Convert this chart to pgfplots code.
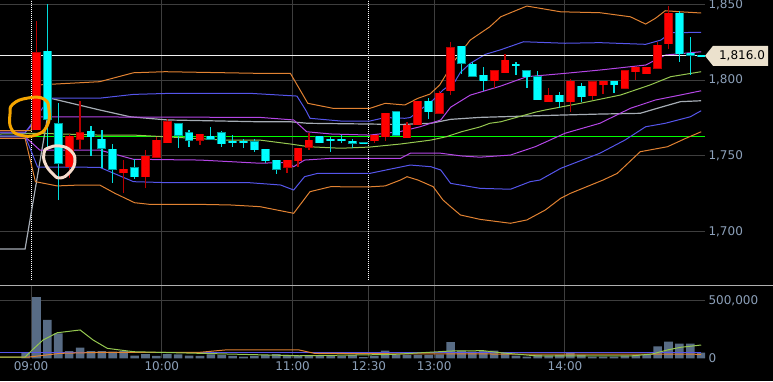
\documentclass[border=0pt]{standalone}
\usepackage{pgfplots}
\usepackage{pgfplotstable}
\pgfplotsset{compat=1.18}
\usepackage{fontspec}
\setmainfont{DejaVu Sans}
\definecolor{gridc}{RGB}{62,62,62}
\definecolor{sepc}{RGB}{175,175,175}
\definecolor{lab}{RGB}{140,160,185}
\definecolor{cup}{RGB}{255,0,0}
\definecolor{cupw}{RGB}{185,0,0}
\definecolor{cdn}{RGB}{0,255,255}
\definecolor{cdnw}{RGB}{0,220,220}
\definecolor{band3}{RGB}{225,130,50}
\definecolor{band2}{RGB}{85,85,235}
\definecolor{band1}{RGB}{180,70,230}
\definecolor{mac}{RGB}{165,172,180}
\definecolor{midc}{RGB}{150,200,80}
\definecolor{vwap}{RGB}{0,255,0}
\definecolor{volbar}{RGB}{88,108,133}
\definecolor{tagc}{RGB}{235,225,205}
\definecolor{anno1}{RGB}{245,165,0}
\definecolor{anno2}{RGB}{245,220,205}

\pgfplotstableread{
k o h l c
0 1767 1839 1767 1818
3 1742.7 1764 1735 1763
4 1760.8 1786 1754.4 1765.2
8 1738.7 1747 1725.3 1741
10 1736 1753.7 1728.6 1749.8
11 1749 1762.5 1749 1760.3
12 1758.6 1774.2 1758.6 1772.5
15 1760.3 1764 1757 1764
23 1742.3 1747.1 1738.8 1747.1
24 1746.7 1754.9 1742.3 1754.9
25 1755.5 1765.2 1753.5 1760.3
31 1759.9 1763.6 1758.2 1763.6
32 1762.5 1778 1760 1778
34 1762 1772 1762 1770.3
35 1770.3 1786 1770 1786
37 1778 1793 1778 1791.2
38 1793 1825.3 1790 1821.3
42 1799.5 1806 1795 1806
43 1804.8 1817 1804.8 1813.2
47 1785.7 1794.5 1785.7 1790
49 1785.7 1800.4 1779 1799.3
51 1789.6 1798.9 1787 1798.9
52 1796.7 1799.3 1790.5 1799.3
54 1794.5 1806.1 1794.5 1806.1
55 1805.5 1808.4 1800 1808.4
56 1804 1808.4 1804 1808.4
57 1807.7 1825.3 1807 1823.1
58 1823.8 1848.9 1820.3 1844.1
}\redc

\pgfplotstableread{
k o h l c
1 1819 1850 1754 1774
2 1771 1785 1721 1745
5 1766.3 1769.6 1749.8 1762.5
6 1761 1767 1741.8 1754.8
7 1754.4 1757.7 1732 1741
9 1742 1747.8 1734.6 1736
13 1771 1771 1755 1763.6
14 1765.2 1767 1756 1760.3
16 1763 1769 1760.3 1760.8
17 1765.2 1766 1756 1757.7
18 1759.3 1763.6 1756 1758.6
19 1759.3 1760.8 1755.4 1759
20 1759.3 1761 1752.6 1753.8
21 1754.2 1754.2 1745 1746.7
22 1747.1 1747.1 1737.9 1741
26 1763 1763 1758.6 1758.6
27 1760.5 1762.5 1752.6 1760
28 1760.5 1763.6 1758.6 1760
29 1759.7 1761 1755 1758.2
30 1758.4 1758.4 1758 1758
33 1779 1779 1763 1763.6
36 1786 1788 1774 1779
39 1822.5 1822.5 1804 1811
40 1810.4 1812 1802.6 1802.6
41 1803.3 1808.8 1793 1799.5
44 1810.6 1812 1803.3 1809.3
45 1806.2 1806.2 1795 1802.2
46 1802.2 1806 1787 1787
48 1790 1792 1781.3 1785.7
50 1796 1798 1785.7 1789
53 1799.3 1799.3 1791.6 1796.7
59 1844.1 1845.8 1812 1817.2
60 1817.6 1828.2 1803.3 1816.3
61 1816.2 1816.2 1816 1816
}\cyanc

\pgfplotstableread{
k v
-1 50000
0 530000
1 333000
2 215000
3 63000
4 93000
5 63000
6 63000
7 57000
8 63000
9 23000
10 37000
11 20000
12 37000
13 35000
14 23000
15 20000
16 35000
17 30000
18 20000
19 15000
20 20000
21 30000
22 37000
23 30000
24 23000
25 23000
26 20000
27 20000
28 20000
29 30000
30 10000
31 20000
32 66000
33 29000
34 29000
35 29000
36 29000
37 35000
38 139000
39 66000
40 57000
41 63000
42 66000
43 49000
44 23000
45 15000
46 29000
47 23000
48 29000
49 52000
50 29000
51 15000
52 15000
53 15000
54 23000
55 29000
56 29000
57 104000
58 145000
59 128000
60 128000
61 49000
}\vol

\pgfplotsset{
  base/.style={
    scale only axis, width=705pt, xmin=-3.35, xmax=61.35,
    axis line style={draw=none},
    major tick length=0pt,
    grid style={gridc, line width=1pt},
    ticklabel style={text=lab, font=\fontsize{12}{14}\selectfont},
    /pgf/number format/.cd, assume math mode=true, fixed, 1000 sep={,},
  },
  candle/.style={only marks, mark=*, mark size=0pt,
    mark options={draw=none, fill=none}, forget plot,
    error bars/.cd, y dir=both, y explicit, error mark=none},
}

\begin{document}
\begin{tikzpicture}
\useasboundingbox (0,0) rectangle (773pt,381pt);
\fill[black] (0,0) rectangle (773pt,381pt);

% ---------------- price panel ----------------
\begin{axis}[base, at={(0pt,96pt)}, anchor=south west, height=285pt,
  ymin=1664.5, ymax=1852.9,
  xtick={11.5,23.5,36.5,48.5}, xticklabels={},
  ytick={1700,1750,1800,1850},
  minor ytick={1712.5,1725,1737.5,1775,1825},
  minor tick length=8pt, tick align=outside,
  minor tick style={draw=gridc!170, line width=1pt},
  ytick pos=right, yticklabel pos=right,
  xmajorgrids, ymajorgrids,
  clip=true]
\draw[white, line width=1pt, dash pattern=on 1pt off 1pt] (axis cs:-0.5,1667.8) -- (axis cs:-0.5,1852.9);
\draw[white, line width=1pt, dash pattern=on 1pt off 1pt] (axis cs:30.5,1667.8) -- (axis cs:30.5,1852.9);
\coordinate (tagp) at (axis cs:61.35,1816);

% green horizontal
\addplot[vwap, line width=1pt] coordinates {(-3.35,1762.5) (61.35,1762.5)};
% grey MA
\addplot[mac, line width=1.2pt] coordinates {(-3.35,1688.3) (-1.05,1688.3) (1.3,1787.9) (5.8,1780.2) (8.6,1775.7) (12,1773.6) (20.5,1772.4) (23.3,1772.4) (24.9,1771.4) (30.6,1770.9) (33.4,1770.6) (36.2,1771.4) (38,1774) (40.7,1775.3) (42.6,1775.7) (46,1776.4) (48.5,1776.9) (51.7,1777.5) (55.4,1778) (57.3,1782) (59.1,1785.7) (61,1786.3)};
% middle line
\addplot[midc, line width=1pt] coordinates {(-3.35,1764.3) (0,1764.8) (5.8,1763.6) (8.9,1763.6) (11.8,1762.5) (17.3,1760.3) (20.5,1760.3) (23.3,1757.7) (25,1755.9) (27.9,1754.9) (30.6,1755.7) (33.4,1757.7) (36.2,1760.3) (37.6,1762.5) (39,1765.8) (40.7,1769) (41.6,1771.4) (42.6,1772.4) (45.8,1778.8) (46.7,1780.2) (49.9,1784.6) (53.6,1790.1) (56.3,1796.7) (58.2,1802.2) (61,1805.5)};
% +-1 sigma
\addplot[band1, line width=1pt] coordinates {(-3.35,1765.5) (-1.05,1765.5) (0.3,1775.7) (20.5,1775.3) (23.6,1773.6) (24.8,1765.8) (27.1,1764.3) (30.6,1763.6) (32,1764.8) (33.3,1765.8) (35.2,1769.1) (37.1,1773.6) (38,1782) (39.8,1790) (42.6,1796) (45,1802.2) (48.5,1804.4) (51.7,1806.6) (55.9,1809.9) (57.7,1816.5) (61,1818.7)};
\addplot[band1, line width=1pt] coordinates {(-3.35,1762.5) (-1.05,1762.5) (0.3,1753.7) (5.8,1753.7) (8.9,1747.6) (15,1747.1) (20.5,1745) (23,1745.5) (23.6,1742.7) (24.6,1747.1) (27,1748.2) (33.4,1748.2) (34.3,1751.6) (37.1,1751.6) (39,1749.8) (40.7,1749) (43.5,1750.4) (45.8,1756) (48.5,1764.8) (51.7,1771.4) (54.5,1781.3) (56.8,1786.8) (59.1,1790.1) (61,1792.9)};
% +-2 sigma
\addplot[band2, line width=1pt] coordinates {(-3.35,1765) (-1.05,1765) (1.2,1788) (5.8,1788) (8.9,1790.5) (12.3,1791.2) (19.6,1791.2) (23.9,1789.4) (24.7,1780.2) (25.1,1774.7) (27.9,1772.9) (30.6,1772.9) (32,1775.2) (33.8,1774.7) (34.3,1775.2) (35.2,1780.2) (36.4,1786.8) (37.3,1793.4) (38.4,1799) (38.9,1805) (39.8,1811) (41.2,1817) (42.6,1820) (44.7,1825.3) (48.5,1824.3) (51.7,1824.7) (55.9,1823.6) (57.3,1826.4) (58.2,1831.3) (61,1831.5)};
\addplot[band2, line width=1pt] coordinates {(-3.35,1763) (-1.05,1763) (0.1,1742.5) (5.8,1742.3) (8.9,1732.8) (12.3,1732.1) (19.6,1732.1) (22.4,1730.6) (23.6,1727.3) (24.6,1736.1) (25.8,1738.3) (30.6,1738.3) (32.4,1741) (34.3,1743.8) (36.2,1742.7) (37.1,1740.5) (38,1731.7) (40.7,1728.4) (43.5,1727.8) (45.3,1732.8) (46.2,1733.9) (48.1,1741.6) (51.7,1751.6) (54,1760.3) (55.9,1769.1) (57.7,1771.4) (60,1775.7) (61,1779.7)};
% +-3 sigma
\addplot[band3, line width=1pt] coordinates {(-3.35,1766.5) (-1.05,1766.5) (-0.5,1766.5) (0,1796.7) (5.8,1798.9) (8.9,1804.8) (11.8,1805.5) (20.5,1804.4) (23.3,1804.4) (24.9,1784.6) (27.2,1781.3) (30.6,1781.3) (32,1784.6) (33.8,1783.5) (35,1787.9) (36.1,1790.7) (37,1796.7) (38.4,1813.2) (39.8,1826.4) (41.6,1835.2) (42.6,1841.8) (45,1848.9) (48.1,1845.1) (51.7,1844.5) (54.5,1841.8) (55.9,1837) (56.8,1840.8) (57.7,1845.8) (59.1,1845.1) (61,1844.3)};
\addplot[band3, line width=1pt] coordinates {(-3.35,1761.5) (-1.05,1761.5) (-0.1,1732.8) (1.9,1730) (4,1730.6) (5.8,1730.6) (7.2,1725.1) (9,1718.9) (10.4,1717.8) (15,1717.8) (17.8,1717.4) (20.5,1716.3) (23.6,1711.9) (25.1,1726.2) (27,1729.5) (30.4,1729.3) (32,1730) (33.4,1733.9) (34,1736.1) (35,1733.9) (36.4,1729.5) (37.3,1720.7) (38,1716.3) (38.9,1710.8) (40.7,1707.9) (43.5,1705.3) (45,1707.5) (46.7,1714.1) (48.1,1721.8) (49,1725.1) (52,1733.9) (53.3,1738.3) (55.4,1752.6) (57.9,1755.9) (59.6,1761.5) (61,1765.8)};
% last price line
\addplot[white!94!black, line width=1.2pt] coordinates {(-3.35,1816) (61.35,1816)};

% candles: wicks
\addplot[candle, error bar style={line width=1.3pt, cupw}] table[x=k, y expr={(\thisrow{h}+\thisrow{l})/2}, y error expr={(\thisrow{h}-\thisrow{l})/2}] {\redc};
\addplot[candle, error bar style={line width=1.3pt, cdnw}] table[x=k, y expr={(\thisrow{h}+\thisrow{l})/2}, y error expr={(\thisrow{h}-\thisrow{l})/2}] {\cyanc};
% candles: bodies
\addplot[candle, error bar style={line width=8.8pt, cupw}] table[x=k, y expr={(\thisrow{o}+\thisrow{c})/2}, y error expr={max(abs(\thisrow{c}-\thisrow{o})/2,0.45)+0.3}] {\redc};
\addplot[candle, error bar style={line width=7pt, cup}] table[x=k, y expr={(\thisrow{o}+\thisrow{c})/2}, y error expr={max(abs(\thisrow{c}-\thisrow{o})/2,0.45)}] {\redc};
\addplot[candle, error bar style={line width=8.8pt, black!40!cdn}] table[x=k, y expr={(\thisrow{o}+\thisrow{c})/2}, y error expr={max(abs(\thisrow{c}-\thisrow{o})/2,0.45)+0.3}] {\cyanc};
\addplot[candle, error bar style={line width=7pt, cdn}] table[x=k, y expr={(\thisrow{o}+\thisrow{c})/2}, y error expr={max(abs(\thisrow{c}-\thisrow{o})/2,0.45)}] {\cyanc};
\end{axis}

% ---------------- volume panel ----------------
\begin{axis}[base, at={(0pt,22.7pt)}, anchor=south west, height=73.3pt,
  ymin=0, ymax=634000,
  xtick={-0.5,11.5,23.5,30.5,36.5,48.5},
  xticklabels={09:00,10:00,11:00,12:30,13:00,14:00},
  ytick={500000}, extra y ticks={0}, extra y tick style={grid=none},
  scaled y ticks=false,
  ytick pos=right, yticklabel pos=right,
  xmajorgrids, ymajorgrids]
\addplot[ybar, bar width=8.6pt, fill=volbar, draw=none] table[x=k, y=v] {\vol};
\addplot[band2, line width=1pt] coordinates {(-3.35,52000) (61,52000)};
\addplot[band3, line width=1pt] coordinates {(-3.35,11000) (-0.7,11000) (2.2,43000) (6.3,52000) (15,52000) (17.3,72000) (24.1,72000) (25.5,43000) (35,38000) (61,35000)};
\addplot[midc, line width=1pt] coordinates {(-3.35,11000) (-1.05,11000) (-0.3,80000) (0.6,158000) (1.9,221000) (4,245000) (5.2,158000) (6.5,86000) (8.9,57000) (15,43000) (24.1,22000) (30.4,30000) (33,35000) (38,63000) (41,66000) (42.6,48000) (46,20000) (54.5,20000) (56.5,37000) (57.9,72000) (59.1,95000) (61,115000)};
\end{axis}

% separator between panels
\draw[sepc, line width=1pt] (0,96pt) -- (773pt,96pt);

% last price tag
\fill[tagc] (tagp) -- ++(8pt,10pt) -- ++(55pt,0) -- ++(0,-20pt) -- ++(-55pt,0) -- cycle;
\node[text=black, font=\fontsize{12}{14}\selectfont, anchor=center] at ([xshift=37pt]tagp) {1,816.0};

% hand-drawn annotations
\begin{scope}[x=1pt, y=-1pt, yshift=381pt]
\draw[anno1, line width=3pt, line join=round] plot[smooth cycle, tension=0.8] coordinates {(13,104) (28,98) (44,99) (49,110) (47,126) (36,135) (20,135) (11,128) (10,114)};
\draw[anno2, line width=3pt, line join=round] plot[smooth cycle, tension=0.8] coordinates {(48,148) (60,146) (71,151) (75,161) (70,172) (60,178) (52,173) (45,163) (44,153)};
\end{scope}
\end{tikzpicture}
\end{document}
